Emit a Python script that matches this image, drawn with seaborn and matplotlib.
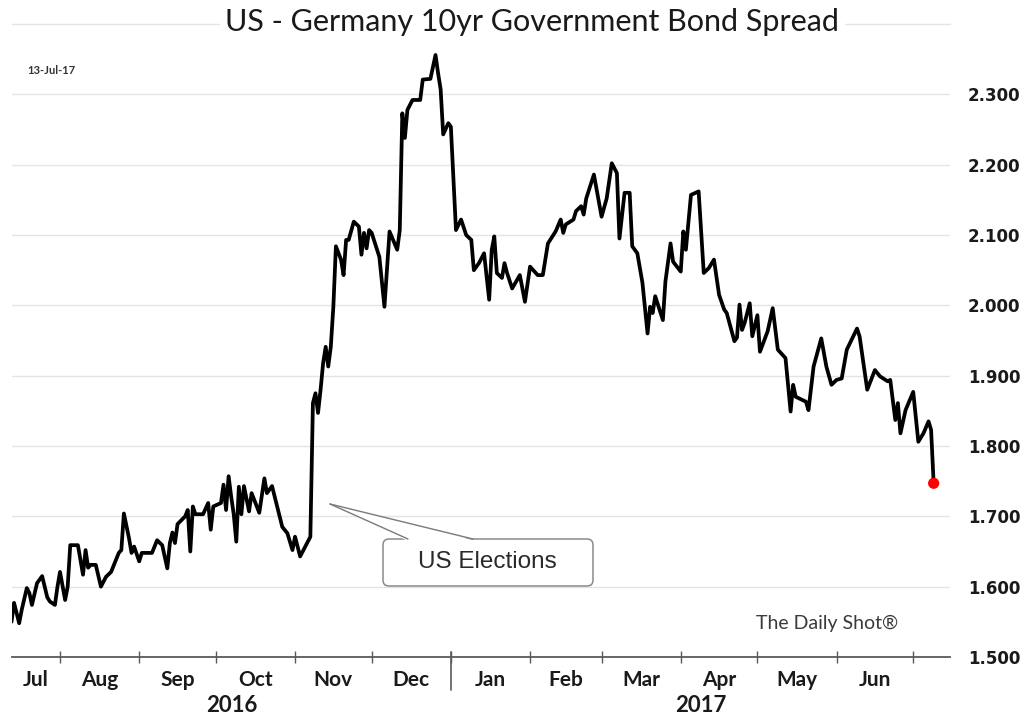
import numpy as np
import pandas as pd
import matplotlib
matplotlib.use("Agg")
import matplotlib.pyplot as plt
import matplotlib.dates as mdates
import matplotlib.transforms as mtransforms
from matplotlib.patches import FancyBboxPatch, Polygon
from matplotlib.lines import Line2D
import seaborn as sns

# ---------------- data ----------------
start_date = "2016-07-13"
day_offsets = [
    0, 1, 3, 4, 6, 7, 8, 10, 12, 14, 15, 17, 18, 19, 21, 22, 23, 26, 28, 29,
    30, 31, 33, 35, 37, 39, 42, 43, 44, 46, 47, 48, 50, 51, 55, 57, 59, 61, 62, 63,
    64, 65, 68, 69, 70, 71, 72, 75, 77, 78, 79, 82, 83, 84, 85, 86, 87, 88, 89, 90,
    91, 93, 94, 97, 99, 100, 102, 106, 108, 110, 111, 113, 115, 117, 118, 119, 120, 121, 122, 123,
    124, 125, 126, 127, 129, 130, 131, 132, 134, 136, 137, 138, 139, 140, 141, 144, 146, 148, 151, 152,
    153, 154, 155, 157, 160, 161, 164, 166, 167, 168, 169, 171, 172, 173, 174, 176, 178, 180, 181, 183,
    185, 187, 188, 189, 190, 192, 193, 194, 196, 199, 201, 203, 206, 208, 210, 213, 215, 216, 217, 220,
    221, 223, 224, 225, 228, 231, 233, 235, 237, 238, 240, 242, 243, 245, 247, 249, 250, 251, 252, 255,
    256, 258, 259, 262, 263, 264, 266, 269, 271, 273, 275, 277, 279, 280, 283, 284, 285, 286, 287, 289,
    290, 292, 293, 296, 298, 300, 303, 304, 305, 306, 307, 311, 312, 314, 317, 319, 321, 323, 325, 327,
    331, 332, 335, 338, 340, 343, 344, 345, 346, 347, 348, 350, 353, 355, 357, 359, 360, 361,
]
spread = [
    1.550, 1.577, 1.548, 1.567, 1.598, 1.591, 1.574, 1.605, 1.615, 1.585, 1.579, 1.574, 1.600, 1.621, 1.581, 1.600, 1.659, 1.659, 1.617, 1.652,
    1.627, 1.631, 1.631, 1.600, 1.614, 1.621, 1.648, 1.652, 1.704, 1.669, 1.648, 1.657, 1.636, 1.648, 1.648, 1.666, 1.659, 1.626, 1.662, 1.677,
    1.662, 1.689, 1.700, 1.709, 1.650, 1.714, 1.703, 1.703, 1.719, 1.681, 1.714, 1.719, 1.745, 1.709, 1.757, 1.728, 1.703, 1.664, 1.742, 1.703,
    1.743, 1.707, 1.733, 1.705, 1.754, 1.733, 1.743, 1.685, 1.676, 1.652, 1.671, 1.643, 1.657, 1.671, 1.861, 1.875, 1.847, 1.880, 1.918, 1.941,
    1.913, 1.941, 1.998, 2.084, 2.065, 2.043, 2.093, 2.093, 2.119, 2.112, 2.072, 2.103, 2.081, 2.107, 2.103, 2.069, 1.998, 2.105, 2.079, 2.107,
    2.273, 2.238, 2.278, 2.292, 2.292, 2.321, 2.322, 2.356, 2.330, 2.307, 2.243, 2.259, 2.254, 2.180, 2.107, 2.122, 2.100, 2.093, 2.050, 2.060,
    2.074, 2.008, 2.079, 2.098, 2.046, 2.039, 2.060, 2.046, 2.024, 2.043, 2.005, 2.055, 2.043, 2.043, 2.088, 2.105, 2.122, 2.103, 2.115, 2.122,
    2.134, 2.141, 2.129, 2.152, 2.186, 2.126, 2.152, 2.202, 2.188, 2.095, 2.160, 2.160, 2.084, 2.074, 2.032, 1.960, 1.998, 1.989, 2.013, 1.979,
    2.034, 2.088, 2.062, 2.048, 2.105, 2.079, 2.157, 2.162, 2.046, 2.053, 2.065, 2.015, 1.994, 1.989, 1.949, 1.954, 2.001, 1.965, 1.975, 2.003,
    1.956, 1.986, 1.934, 1.963, 1.996, 1.937, 1.925, 1.887, 1.849, 1.887, 1.870, 1.863, 1.851, 1.913, 1.953, 1.913, 1.887, 1.894, 1.896, 1.937,
    1.967, 1.956, 1.880, 1.908, 1.899, 1.892, 1.894, 1.866, 1.837, 1.861, 1.818, 1.851, 1.877, 1.806, 1.818, 1.835, 1.823, 1.747,
]
y_ticks = [1.5, 1.6, 1.7, 1.8, 1.9, 2.0, 2.1, 2.2, 2.3]
month_labels = ["Jul", "Aug", "Sep", "Oct", "Nov", "Dec", "Jan", "Feb", "Mar", "Apr", "May", "Jun"]
year_labels = ["2016", "2017"]
title_text = "US - Germany 10yr Government Bond Spread"
date_text = "13-Jul-17"
source_text = "The Daily Shot\u00ae"
callout_text = "US Elections"

# ---------------- figure ----------------
sns.set_theme(style="white")
plt.rcParams['font.family'] = ['Lato', 'DejaVu Sans']

W, H = 1024, 715
fig = plt.figure(figsize=(W / 100, H / 100), dpi=100)
fig.patch.set_facecolor("white")
ax = fig.add_axes([12 / W, 1 - 657 / H, 938 / W, 633 / H])

t0 = pd.Timestamp(start_date)
dates = t0 + pd.to_timedelta(day_offsets, unit="D")
df = pd.DataFrame({"date": dates, "spread": spread})

sns.lineplot(data=df, x="date", y="spread", ax=ax, color="black", linewidth=2.7,
             estimator=None, sort=False, zorder=3)
sns.scatterplot(data=df.iloc[[-1]], x="date", y="spread", ax=ax, color="red",
                s=65, edgecolor="none", zorder=4)

x_left = t0 + pd.Timedelta(days=0.2)
x_right = t0 + pd.Timedelta(days=367.4)
ax.set_xlim(x_left, x_right)
ax.set_ylim(1.5, 2.4)
ax.set_xlabel("")
ax.set_ylabel("")

# y axis on right
ax.yaxis.tick_right()
ax.set_yticks(y_ticks)
ax.set_yticklabels([f"{v:.3f}" for v in y_ticks])
ax.tick_params(axis="y", length=0, pad=13, labelsize=12, labelcolor="#1a1a1a")
for lab in ax.get_yticklabels():
    lab.set_fontfamily("DejaVu Sans")
    lab.set_fontweight("bold")
ax.grid(axis="y", color="#e4e4e4", linewidth=1.0)
ax.grid(axis="x", visible=False)

for s in ["left", "right"]:
    ax.spines[s].set_visible(False)
ax.spines["top"].set_color("#e4e4e4")
ax.spines["top"].set_linewidth(1.0)
ax.spines["bottom"].set_color("#5a5a5a")
ax.spines["bottom"].set_linewidth(1.3)

# x axis: month boundary ticks and centered labels
month_starts = list(pd.date_range("2016-08-01", "2017-07-01", freq="MS"))
edges = [x_left] + month_starts
centers = [edges[i] + (edges[i + 1] - edges[i]) / 2 for i in range(len(month_labels))]
ax.set_xticks(month_starts)
ax.set_xticklabels([])
ax.tick_params(axis="x", which="major", direction="inout", length=8, width=1.0,
               color="#5a5a5a", bottom=True)
ax.set_xticks(centers, minor=True)
ax.set_xticklabels(month_labels, minor=True)
ax.tick_params(axis="x", which="minor", length=0, pad=9, labelsize=15,
               labelcolor="#1a1a1a")
for lab in ax.get_xticklabels(minor=True):
    lab.set_fontweight("bold")

# year separator & year labels
jan1 = pd.Timestamp("2017-01-01")
blend = mtransforms.blended_transform_factory(ax.transData, ax.transAxes)
ax.add_line(Line2D([jan1, jan1], [5 / 633, -33 / 633], transform=blend,
                   color="#5a5a5a", linewidth=1.2, clip_on=False))
year_spans = [(x_left, jan1), (jan1, x_right)]
for lab, (a, b) in zip(year_labels, year_spans):
    ax.text(a + (b - a) / 2, -49 / 633, lab, transform=blend, ha="center", va="center",
            fontsize=16, fontweight="bold", color="#1a1a1a")

# pixel-space transform for annotations
px = mtransforms.Affine2D().scale(1 / 100, -1 / 100).translate(0, H / 100) + fig.dpi_scale_trans

fig.text(532, 22, title_text, transform=px, ha="center", va="center", fontsize=22,
         color="#1a1a1a", zorder=10,
         bbox=dict(facecolor="white", edgecolor="none", pad=4))
fig.text(27, 70, date_text, transform=px, ha="left", va="center", fontsize=8,
         fontweight="bold", color="#333333")
fig.text(756, 623, source_text, transform=px, ha="left", va="center", fontsize=14,
         color="#3a3a3a")

# callout
box = FancyBboxPatch((383, 539), 210, 47, boxstyle="round,pad=0,rounding_size=6",
                     transform=px, facecolor="white", edgecolor="#8a8a8a", linewidth=1.1,
                     zorder=5)
fig.add_artist(box)
tail = Polygon([(330, 504), (407, 540.5), (474, 540.5)], closed=True, transform=px,
               facecolor="white", edgecolor="none", zorder=6)
fig.add_artist(tail)
for bx in (408, 473):
    fig.add_artist(Line2D([330, bx], [504, 539], transform=px, color="#7a7a7a",
                          linewidth=1.0, zorder=7))
fig.text(487, 568, callout_text, transform=px, ha="center", va="baseline",
         fontsize=17.5, family=["Liberation Sans", "DejaVu Sans"], color="#2a2a2a", zorder=8)

fig.savefig("out.png", dpi=100, facecolor="white")
